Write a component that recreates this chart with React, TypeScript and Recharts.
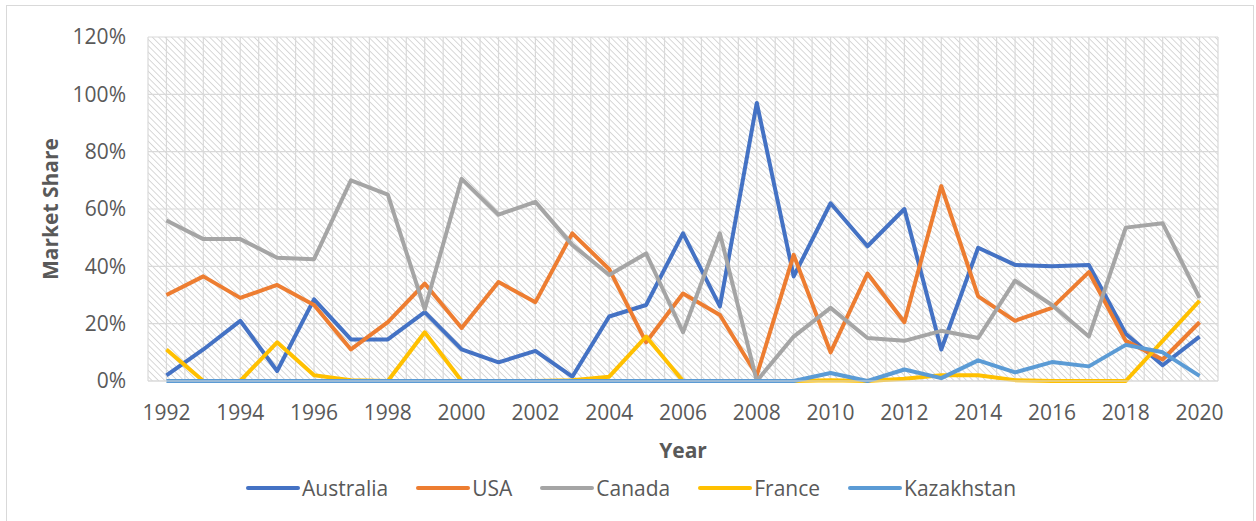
import React from 'react';
import { LineChart, Line, XAxis, YAxis, CartesianGrid, Legend } from 'recharts';

const years = [
  '1992', '1993', '1994', '1995', '1996', '1997', '1998', '1999', '2000', '2001',
  '2002', '2003', '2004', '2005', '2006', '2007', '2008', '2009', '2010', '2011',
  '2012', '2013', '2014', '2015', '2016', '2017', '2018', '2019', '2020',
];

const australia = [2, 11, 21, 3.5, 28.5, 14.5, 14.5, 24, 11, 6.5, 10.5, 1.5, 22.5, 26.5, 51.5, 26, 97, 36.5, 62, 47, 60, 11, 46.5, 40.5, 40, 40.5, 16.5, 5.5, 15.5];
const usa = [30, 36.5, 29, 33.5, 26.5, 11, 20.5, 34, 18.5, 34.5, 27.5, 51.5, 39, 13.5, 30.5, 23, 2, 44, 10, 37.5, 20.5, 68, 29.5, 21, 25.5, 38, 14, 7.5, 20.5];
const canada = [56, 49.5, 49.5, 43, 42.5, 70, 65, 25, 70.5, 58, 62.5, 47.5, 37, 44.5, 17, 51.5, 0, 15.5, 25.5, 15, 14, 17.5, 15, 35, 26.5, 15.5, 53.5, 55, 29];
const france = [11, 0, 0, 13.5, 2, 0.3, 0, 17, 0, 0, 0, 0.3, 1.5, 15.5, 0, 0, 0, 0, 0.3, 0, 0.8, 2, 2, 0.3, 0, 0, 0, 14, 28];
const kazakhstan = [0, 0, 0, 0, 0, 0, 0, 0, 0, 0, 0, 0, 0, 0, 0, 0, 0, 0, 2.8, 0, 4, 1, 7.2, 3, 6.6, 5.1, 12.6, 10, 1.8];

const yTicks = [0, 20, 40, 60, 80, 100, 120];

const seriesList = [
  { name: 'Australia', values: australia, color: '#4472C4' },
  { name: 'USA', values: usa, color: '#ED7D31' },
  { name: 'Canada', values: canada, color: '#A5A5A5' },
  { name: 'France', values: france, color: '#FFC000' },
  { name: 'Kazakhstan', values: kazakhstan, color: '#5B9BD5' },
];

const data = years.map((year, i) => {
  const row: Record<string, string | number> = { year };
  seriesList.forEach((s) => {
    row[s.name] = s.values[i];
  });
  return row;
});

const FONT = "'Open Sans', sans-serif";
const TEXT = '#595959';

const LegendContent = () => (
  <div style={{ display: 'flex', alignItems: 'center', height: 40, paddingLeft: 246, fontFamily: FONT, fontSize: 21, color: TEXT }}>
    {seriesList.map((s) => (
      <div key={s.name} style={{ display: 'flex', alignItems: 'center', marginRight: 28 }}>
        <span style={{ display: 'inline-block', width: 54, height: 4, borderRadius: 2, background: s.color, marginRight: 2 }} />
        <span>{s.name}</span>
      </div>
    ))}
  </div>
);

export default function App() {
  return (
    <div style={{ position: 'absolute', left: 0, top: 0, width: 1256, height: 521, background: '#fff', fontFamily: FONT, overflow: 'hidden' }}>
      <div style={{ position: 'absolute', left: 6, top: 5, width: 1248, height: 530, border: '1.5px solid #d9d9d9', boxSizing: 'border-box' }} />
      <div style={{ position: 'absolute', left: 0, top: 0 }}>
        <LineChart width={1256} height={521} data={data} margin={{ top: 37, right: 38, left: 0, bottom: 20 }}>
          <defs>
            <pattern id="hatch" width="4.5" height="4.5" patternUnits="userSpaceOnUse" patternTransform="rotate(-45)">
              <rect width="4.5" height="4.5" fill="#ffffff" />
              <line x1="0" y1="0" x2="0" y2="4.5" stroke="#cfcfcf" strokeWidth="1.6" />
            </pattern>
          </defs>
          <CartesianGrid
            fill="url(#hatch)"
            stroke="#d9d9d9"
            strokeWidth={1.2}
            verticalCoordinatesGenerator={({ offset }: any) => {
              const pts: number[] = [];
              const n = years.length * 2;
              for (let k = 0; k <= n; k++) pts.push(offset.left + (k * offset.width) / n);
              return pts;
            }}
          />
          <XAxis
            dataKey="year"
            interval={1}
            height={80}
            padding={{ left: 1070 / 58, right: 1070 / 58 }}
            tickSize={0}
            tickMargin={24}
            axisLine={{ stroke: '#d9d9d9' }}
            tick={{ fill: TEXT, fontSize: 21, fontFamily: FONT }}
            label={{
              content: ({ viewBox }: any) => (
                <text x={viewBox.x + viewBox.width / 2} y={viewBox.y + 76.5} textAnchor="middle" fill={TEXT} fontSize={21} fontWeight={700} fontFamily={FONT}>
                  Year
                </text>
              ),
            }}
          />
          <YAxis
            width={148}
            domain={[0, 120]}
            ticks={yTicks}
            tickFormatter={(v: number) => `${v}%`}
            tickSize={0}
            tickMargin={22}
            axisLine={false}
            tick={{ fill: TEXT, fontSize: 21, fontFamily: FONT }}
            label={{
              content: ({ viewBox }: any) => (
                <text transform={`translate(${viewBox.x + 57.5},${viewBox.y + viewBox.height / 2}) rotate(-90)`} textAnchor="middle" fill={TEXT} fontSize={21} fontWeight={700} fontFamily={FONT}>
                  Market Share
                </text>
              ),
            }}
          />
          {seriesList.map((s) => (
            <Line
              key={s.name}
              type="linear"
              dataKey={s.name}
              stroke={s.color}
              strokeWidth={4}
              strokeLinejoin="round"
              dot={false}
              activeDot={false}
              isAnimationActive={false}
            />
          ))}
          <Legend verticalAlign="bottom" content={<LegendContent />} wrapperStyle={{ left: 0, width: 1256, bottom: 13 }} />
        </LineChart>
      </div>
    </div>
  );
}
